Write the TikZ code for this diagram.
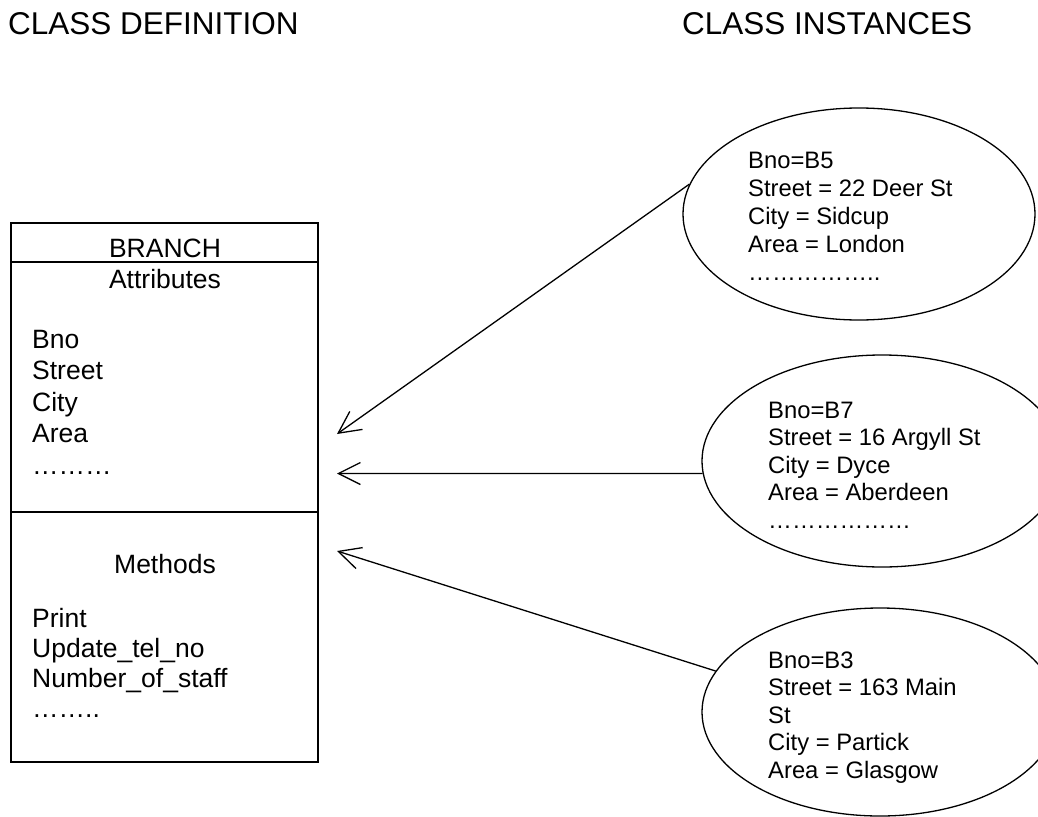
\documentclass[tikz,border=0pt]{standalone}
\usepackage{fontspec}
\setmainfont{Liberation Sans}
\usetikzlibrary{shapes.geometric}
\usetikzlibrary{arrows.meta}

\begin{document}
\begin{tikzpicture}[x=1pt, y=-1pt,
        heading/.style={font=\fontsize{31.5}{36}\selectfont, anchor=base west, inner sep=0pt},
        boxtext/.style={font=\fontsize{26.5}{30}\selectfont, inner sep=0pt},
        insttext/.style={font=\fontsize{23.8}{27}\selectfont, anchor=base west, inner sep=0pt},
        instance/.style={ellipse, draw=black, line width=1.3pt, minimum height=212pt, inner sep=0pt},
        toclass/.style={-{Straight Barb[length=22pt, width=22pt]}, line width=1.3pt}]
    \useasboundingbox (0,0) rectangle (1038,816);
    \clip (0,0) rectangle (1038,816);

    \node[heading] (defn) at (8,35) {CLASS DEFINITION};
    \node[heading] (inst) at (682,35) {CLASS INSTANCES};

    % class box
    \node[draw=black, line width=2pt, anchor=north west, outer sep=0pt, inner sep=0pt,
        minimum width=307pt, minimum height=539pt] (branch) at (11,223) {};
    \draw[line width=2pt] (branch.west |- 0,262) -- (branch.east |- 0,262);
    \draw[line width=2pt] (branch.west |- 0,512) -- (branch.east |- 0,512);

    \node[boxtext, anchor=base] (title) at (165,257) {BRANCH};
    \node[boxtext, anchor=base] (attrs) at (165,288) {Attributes};
    \foreach \txt [count=\i] in {Bno, Street, City, Area, ………}
        \node[boxtext, anchor=base west] (attr\i) at (32,316.5+31.5*\i) {\txt};

    \node[boxtext, anchor=base] (meths) at (165,573) {Methods};
    \foreach \txt [count=\i] in {Print, Update\_tel\_no, Number\_of\_staff, ……..}
        \node[boxtext, anchor=base west] (meth\i) at (32,597+30*\i) {\txt};

    % instances
    \node[instance, minimum width=352pt] (b5) at (859,214) {};
    \node[instance, minimum width=360pt] (b7) at (882,461) {};
    \node[instance, minimum width=356pt, minimum height=208pt] (b3) at (880,712) {};

    \foreach \txt [count=\i] in {Bno=B5, Street = 22 Deer St, City = Sidcup, Area = London, ……………..}
        \node[insttext] (b5line\i) at (748,140+28*\i) {\txt};
    \foreach \txt [count=\i] in {Bno=B7, Street = 16 Argyll St, City = Dyce, Area = Aberdeen, ………………}
        \node[insttext] (b7line\i) at (768,390.5+27.5*\i) {\txt};
    \foreach \txt [count=\i] in {Bno=B3, Street = 163 Main, St, City = Partick, Area = Glasgow}
        \node[insttext] (b3line\i) at (768,640.5+27.5*\i) {\txt};

    \coordinate (tipA) at (337,434);
    \coordinate (tipB) at (337,473.5);
    \coordinate (tipC) at (337,551);
    \draw[toclass] (b5.170) -- (tipA);
    \draw[toclass] (b7.184) -- (tipB);
    \draw[toclass] (b3.166) -- (tipC);
\end{tikzpicture}
\end{document}
